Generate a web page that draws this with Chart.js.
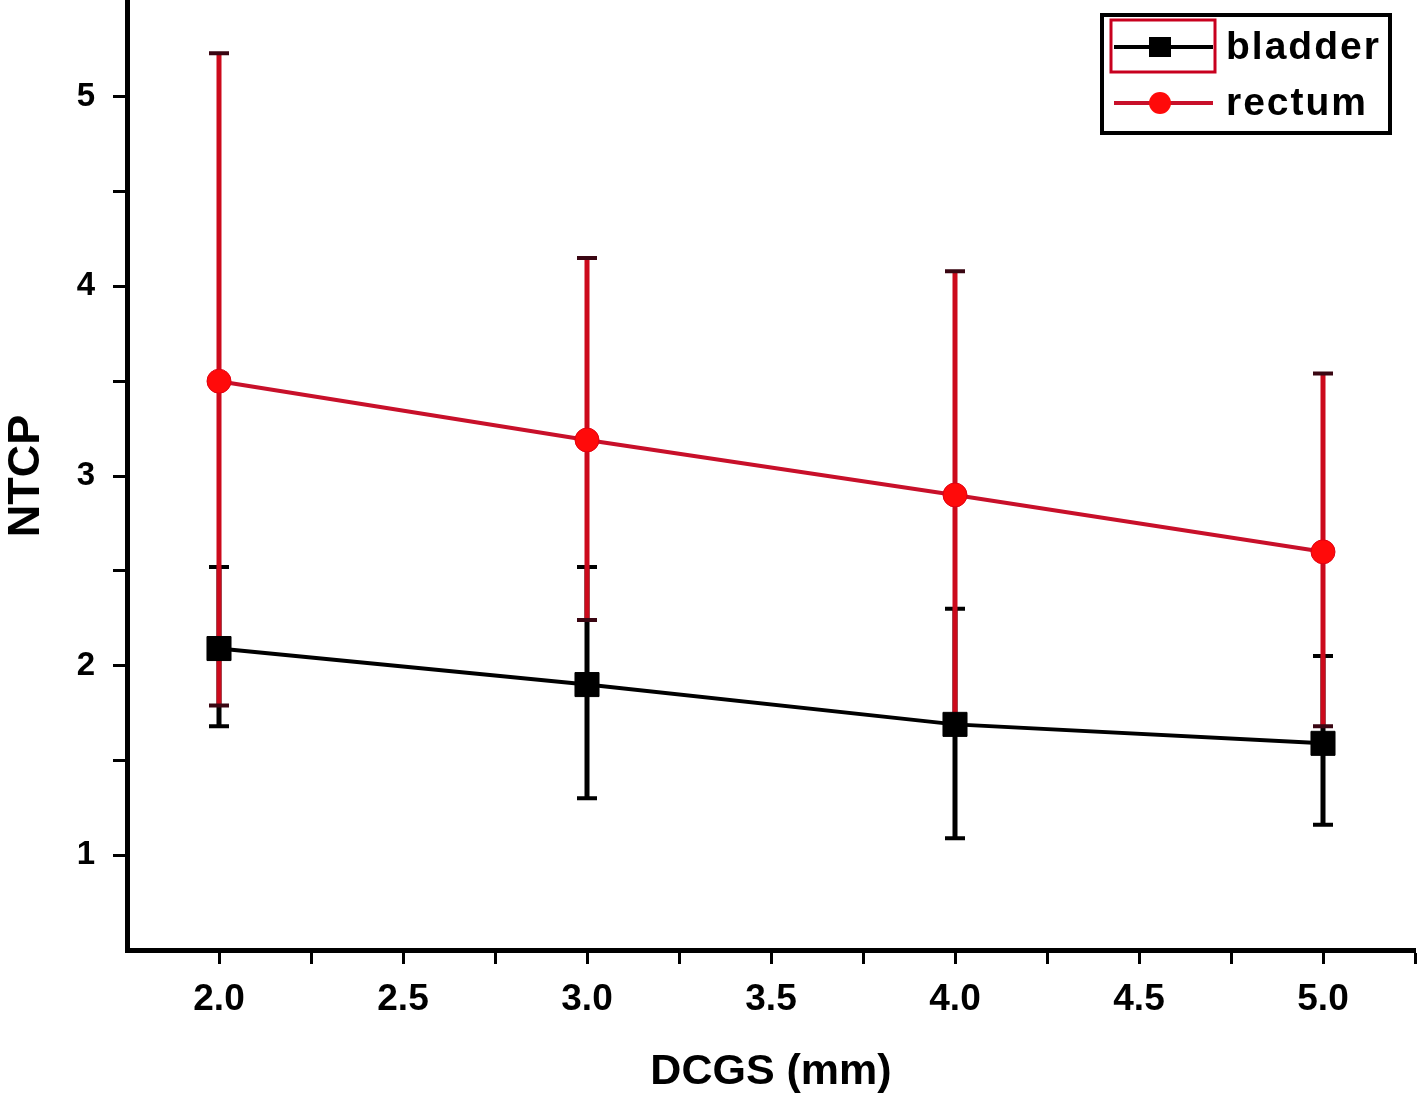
<!DOCTYPE html>
<html><head><meta charset="utf-8">
<script src="https://cdn.jsdelivr.net/npm/chart.js@4.4.0/dist/chart.umd.min.js"></script>
<style>html,body{margin:0;padding:0;background:#fff}#wrap{width:1418px;height:1098px}</style>
</head><body><div id="wrap"><canvas id="c" width="1418" height="1098"></canvas></div>
<script>
// ---- data ----
const xValues = [2.0, 3.0, 4.0, 5.0];
const bladder = [2.09, 1.90, 1.69, 1.59];
const bladderLow = [1.68, 1.30, 1.09, 1.16];
const bladderHigh = [2.52, 2.52, 2.30, 2.05];
const rectum = [3.50, 3.19, 2.90, 2.60];
const rectumLow = [1.79, 2.24, 1.72, 1.68];
const rectumHigh = [5.23, 4.15, 4.08, 3.54];
const seriesLabels = ['bladder', 'rectum'];
const xTitle = 'DCGS (mm)';
const yTitle = 'NTCP';
const xMajorTicks = [2.0, 2.5, 3.0, 3.5, 4.0, 4.5, 5.0];
const xMinorTicks = [2.25, 2.75, 3.25, 3.75, 4.25, 4.75, 5.25];
const yMajorTicks = [1, 2, 3, 4, 5];
const yMinorTicks = [1.5, 2.5, 3.5, 4.5];

const toPts = (ys) => xValues.map((x, i) => ({x, y: ys[i]}));

const errorBars = {
  id: 'errorBars',
  beforeDatasetsDraw(chart) {
    const {ctx, scales: {x, y}} = chart;
    chart.data.datasets.forEach(ds => {
      ctx.save();
      ds.data.forEach((p, i) => {
        const px = x.getPixelForValue(p.x);
        const yl = y.getPixelForValue(ds.errLow[i]);
        const yh = y.getPixelForValue(ds.errHigh[i]);
        ctx.strokeStyle = ds.errColor; ctx.lineWidth = 5;
        ctx.beginPath(); ctx.moveTo(px, yl); ctx.lineTo(px, yh); ctx.stroke();
        ctx.strokeStyle = ds.capColor; ctx.lineWidth = 4;
        ctx.beginPath();
        ctx.moveTo(px - 10, yl); ctx.lineTo(px + 10, yl);
        ctx.moveTo(px - 10, yh); ctx.lineTo(px + 10, yh);
        ctx.stroke();
      });
      ctx.restore();
    });
  }
};

const boxLegend = {
  id: 'boxLegend',
  afterDraw(chart) {
    const ctx = chart.ctx;
    const bx = 1102, by = 15, bw = 288, bh = 118;
    ctx.save();
    ctx.fillStyle = '#fff';
    ctx.fillRect(bx, by, bw, bh);
    ctx.strokeStyle = '#000'; ctx.lineWidth = 4;
    ctx.strokeRect(bx, by, bw, bh);
    // selection rectangle around first sample
    ctx.strokeStyle = '#c8001e'; ctx.lineWidth = 3;
    ctx.strokeRect(1111, 20, 104, 52);
    chart.data.datasets.forEach((ds, i) => {
      const cy = 47 + i * 56;
      ctx.strokeStyle = ds.borderColor; ctx.lineWidth = 4;
      ctx.beginPath(); ctx.moveTo(1114, cy); ctx.lineTo(1213, cy); ctx.stroke();
      ctx.fillStyle = ds.pointBackgroundColor;
      if (ds.pointStyle === 'rect') {
        ctx.fillRect(1160 - 11, cy - 10, 22, 20);
      } else {
        ctx.beginPath(); ctx.arc(1160, cy, 11, 0, Math.PI * 2); ctx.fill();
      }
      ctx.fillStyle = '#000';
      ctx.font = 'bold 39px "Liberation Sans", Arial, sans-serif';
      try { ctx.letterSpacing = '2px'; } catch (e) {}
      ctx.textBaseline = 'middle'; ctx.textAlign = 'left';
      ctx.fillText(ds.label, 1226, cy + 1);
    });
    ctx.restore();
  }
};

new Chart(document.getElementById('c'), {
  type: 'scatter',
  data: {
    datasets: [
      {
        label: seriesLabels[0], data: toPts(bladder), errLow: bladderLow, errHigh: bladderHigh,
        errColor: '#000', capColor: '#000',
        showLine: true, borderColor: '#000', borderWidth: 4,
        pointStyle: 'rect', pointRadius: 17, pointBackgroundColor: '#000', pointBorderColor: '#000', pointBorderWidth: 1
      },
      {
        label: seriesLabels[1], data: toPts(rectum), errLow: rectumLow, errHigh: rectumHigh,
        errColor: '#cc0a1c', capColor: '#3a0612',
        showLine: true, borderColor: '#c8102a', borderWidth: 4,
        pointStyle: 'circle', pointRadius: 12, pointBackgroundColor: '#ff0a0a', pointBorderColor: '#e00010', pointBorderWidth: 1
      }
    ]
  },
  options: {
    responsive: false, animation: false, devicePixelRatio: 1,
    layout: {autoPadding: false, padding: {left: 0, right: 3, top: 2, bottom: 0}},
    plugins: {legend: {display: false}, tooltip: {enabled: false}},
    scales: {
      x: {
        type: 'linear', min: 1.75, max: 5.25,
        afterFit(s) { s.height = 148; s.paddingLeft = 0; s.paddingRight = 0; },
        afterBuildTicks(s) { s.ticks = [...xMajorTicks, ...xMinorTicks].sort((a, b) => a - b).map(v => ({value: v})); },
        ticks: {
          autoSkip: false, maxRotation: 0, padding: 14, color: '#000',
          font: {family: '"Liberation Sans", Arial, sans-serif', size: 37, weight: 'bold'},
          callback: (v) => xMajorTicks.includes(v) ? v.toFixed(1) : ''
        },
        grid: {display: true, drawOnChartArea: false, drawTicks: true, tickLength: 14, tickWidth: 3, tickColor: '#000'},
        border: {display: true, color: '#000', width: 5},
        title: {display: true, text: xTitle, color: '#000', padding: 0,
          font: {family: '"Liberation Sans", Arial, sans-serif', size: 43, weight: 'bold'}}
      },
      y: {
        type: 'linear', min: 0.5, max: 5.5,
        afterFit(s) { s.width = 127; s.paddingTop = 0; s.paddingBottom = 0; },
        afterBuildTicks(s) { s.ticks = [...yMajorTicks, ...yMinorTicks].sort((a, b) => a - b).map(v => ({value: v})); },
        ticks: {
          autoSkip: false, padding: 18, color: '#000',
          font: {family: '"Liberation Sans", Arial, sans-serif', size: 33, weight: 'bold'},
          callback: (v) => yMajorTicks.includes(v) ? String(v) : ''
        },
        grid: {display: true, drawOnChartArea: false, drawTicks: true, tickLength: 14, tickWidth: 3, tickColor: '#000'},
        border: {display: true, color: '#000', width: 5},
        title: {display: true, text: yTitle, color: '#000', padding: 0,
          font: {family: '"Liberation Sans", Arial, sans-serif', size: 45, weight: 'bold'}}
      }
    }
  },
  plugins: [errorBars, boxLegend]
});
</script>
</body></html>
